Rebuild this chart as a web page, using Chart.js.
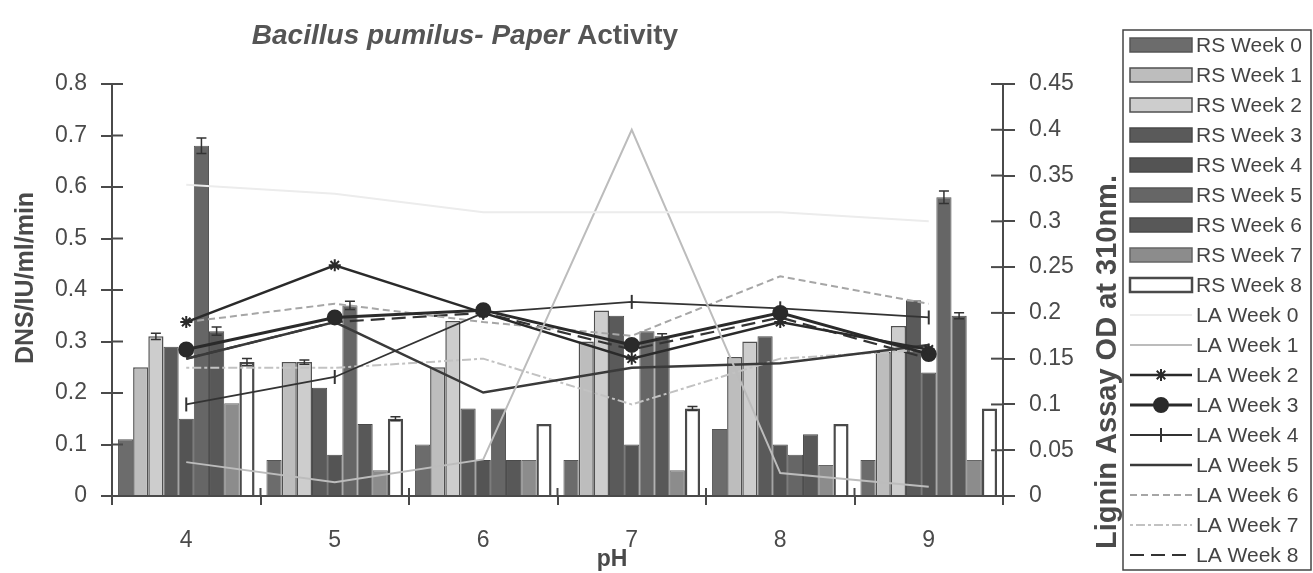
<!DOCTYPE html>
<html>
<head>
<meta charset="utf-8">
<script src="https://cdn.jsdelivr.net/npm/chart.js@4.4.1/dist/chart.umd.min.js"></script>
<style>
html,body{margin:0;padding:0;background:#fff;}
#wrap{width:1313px;height:573px;position:relative;}
</style>
</head>
<body>
<div id="wrap"><canvas id="c" width="1313" height="573"></canvas></div>
<script>
// ---- data ----
const categories = ['4', '5', '6', '7', '8', '9'];
const leftTicks = [0, 0.1, 0.2, 0.3, 0.4, 0.5, 0.6, 0.7, 0.8];
const rightTicks = [0, 0.05, 0.1, 0.15, 0.2, 0.25, 0.3, 0.35, 0.4, 0.45];
const leftTickLabels = ['0', '0.1', '0.2', '0.3', '0.4', '0.5', '0.6', '0.7', '0.8'];
const rightTickLabels = ['0', '0.05', '0.1', '0.15', '0.2', '0.25', '0.3', '0.35', '0.4', '0.45'];

const rsWeek0 = [0.11, 0.07, 0.10, 0.07, 0.13, 0.07];
const rsWeek1 = [0.25, 0.26, 0.25, 0.30, 0.27, 0.28];
const rsWeek2 = [0.31, 0.26, 0.34, 0.36, 0.30, 0.33];
const rsWeek3 = [0.29, 0.21, 0.17, 0.35, 0.31, 0.38];
const rsWeek4 = [0.15, 0.08, 0.07, 0.10, 0.10, 0.24];
const rsWeek5 = [0.68, 0.37, 0.17, 0.32, 0.08, 0.58];
const rsWeek6 = [0.32, 0.14, 0.07, 0.31, 0.12, 0.35];
const rsWeek7 = [0.18, 0.05, 0.07, 0.05, 0.06, 0.07];
const rsWeek8 = [0.26, 0.15, 0.14, 0.17, 0.14, 0.17];

const rsErr5 = [0.015, 0.008, 0.000, 0.000, 0.000, 0.012];
const rsErr6 = [0.008, 0.000, 0.000, 0.005, 0.000, 0.006];
const rsErr8 = [0.007, 0.004, 0.000, 0.004, 0.000, 0.000];
const rsErr2 = [0.006, 0.004, 0.000, 0.000, 0.000, 0.000];

const laWeek0 = [0.34, 0.33, 0.31, 0.31, 0.31, 0.30];
const laWeek1 = [0.037, 0.015, 0.04, 0.40, 0.025, 0.01];
const laWeek2 = [0.19, 0.252, 0.20, 0.15, 0.19, 0.16];
const laWeek3 = [0.16, 0.195, 0.203, 0.165, 0.20, 0.155];
const laWeek4 = [0.10, 0.13, 0.20, 0.212, 0.205, 0.195];
const laWeek5 = [0.15, 0.19, 0.113, 0.14, 0.145, 0.165];
const laWeek6 = [0.19, 0.21, 0.19, 0.175, 0.24, 0.21];
const laWeek7 = [0.14, 0.14, 0.15, 0.10, 0.15, 0.16];
const laWeek8 = [0.15, 0.19, 0.20, 0.16, 0.195, 0.15];

// ---- geometry ----
const PLOT_LEFT = 112, PLOT_RIGHT = 1003, PLOT_TOP = 84, PLOT_BOTTOM = 496;
const W = 1313, H = 573;
const FONT = '"Liberation Sans", Arial, sans-serif';
const INK = '#4a4a4a';

function bar(label, data, bg, border, bw, err) {
  return { type: 'bar', label, data, backgroundColor: bg, borderColor: border,
    borderWidth: bw, yAxisID: 'y', order: 2, errors: err || null,
    categoryPercentage: 0.92, barPercentage: 1.0, borderSkipped: 'bottom' };
}
function line(label, data, color, width, dash, ptStyle, ptRadius, ptRot) {
  return { type: 'line', label, data, borderColor: color, backgroundColor: color,
    borderWidth: width, borderDash: dash || [], yAxisID: 'y2', order: 1,
    pointStyle: ptStyle || 'circle', pointRadius: ptRadius || 0, pointRotation: ptRot || 0,
    pointBorderColor: color, pointBackgroundColor: color, pointBorderWidth: 2,
    tension: 0, fill: false };
}

const datasets = [
  bar('RS Week 0', rsWeek0, '#6c6c6c', '#555', 1),
  bar('RS Week 1', rsWeek1, '#bdbdbd', '#505050', 1.5),
  bar('RS Week 2', rsWeek2, '#cdcdcd', '#505050', 1.5, rsErr2),
  bar('RS Week 3', rsWeek3, '#5a5a5a', '#4a4a4a', 1),
  bar('RS Week 4', rsWeek4, '#545454', '#484848', 1),
  bar('RS Week 5', rsWeek5, '#666666', '#555', 1, rsErr5),
  bar('RS Week 6', rsWeek6, '#585858', '#4a4a4a', 1, rsErr6),
  bar('RS Week 7', rsWeek7, '#8c8c8c', '#666', 1),
  bar('RS Week 8', rsWeek8, '#ffffff', '#4a4a4a', 2.5, rsErr8),
  line('LA Week 0', laWeek0, '#ececec', 2),
  line('LA Week 1', laWeek1, '#bcbcbc', 2),
  line('LA Week 2', laWeek2, '#2a2a2a', 2.5, null, 'star', 6),
  line('LA Week 3', laWeek3, '#2a2a2a', 3, null, 'circle', 7),
  line('LA Week 4', laWeek4, '#333333', 1.8, null, 'line', 7, 90),
  line('LA Week 5', laWeek5, '#3a3a3a', 2.5),
  line('LA Week 6', laWeek6, '#a6a6a6', 2, [7, 4]),
  line('LA Week 7', laWeek7, '#c2c2c2', 2, [3, 3, 9, 3]),
  line('LA Week 8', laWeek8, '#333333', 2.2, [14, 7])
];

// ---- plugin: titles, inner ticks, error bars, legend ----
const decor = {
  id: 'decor',
  afterDatasetsDraw(chart) {
    const ctx = chart.ctx;
    const ys = chart.scales.y;
    ctx.save();
    ctx.strokeStyle = '#333';
    ctx.lineWidth = 1.5;
    chart.data.datasets.forEach((ds, di) => {
      if (!ds.errors) return;
      const meta = chart.getDatasetMeta(di);
      meta.data.forEach((el, i) => {
        const e = ds.errors[i];
        if (!e) return;
        const v = ds.data[i];
        const yt = ys.getPixelForValue(v + e);
        const yb = ys.getPixelForValue(v - e);
        ctx.beginPath();
        ctx.moveTo(el.x, yt); ctx.lineTo(el.x, yb);
        ctx.moveTo(el.x - 5, yt); ctx.lineTo(el.x + 5, yt);
        ctx.moveTo(el.x - 5, yb); ctx.lineTo(el.x + 5, yb);
        ctx.stroke();
      });
    });
    ctx.restore();
  },
  afterDraw(chart) {
    const ctx = chart.ctx;
    const ca = chart.chartArea;
    ctx.save();
    // inner tick halves
    ctx.strokeStyle = INK; ctx.lineWidth = 2;
    const ys = chart.scales.y, y2 = chart.scales.y2, xs = chart.scales.x;
    leftTicks.forEach(v => { const p = ys.getPixelForValue(v); ctx.beginPath(); ctx.moveTo(ca.left, p); ctx.lineTo(ca.left + 11, p); ctx.stroke(); });
    rightTicks.forEach(v => { const p = y2.getPixelForValue(v); ctx.beginPath(); ctx.moveTo(ca.right, p); ctx.lineTo(ca.right - 12, p); ctx.stroke(); });
    for (let i = 1; i < categories.length; i++) {
      const p = (xs.getPixelForValue(i - 1) + xs.getPixelForValue(i)) / 2;
      ctx.beginPath(); ctx.moveTo(p, ca.bottom); ctx.lineTo(p, ca.bottom - 8); ctx.stroke();
    }
    // title
    ctx.fillStyle = '#555';
    ctx.textBaseline = 'middle';
    ctx.textAlign = 'left';
    const t1 = 'Bacillus pumilus- Paper ', t2 = 'Activity';
    ctx.font = 'italic bold 28px ' + FONT;
    const w1 = ctx.measureText(t1).width;
    ctx.font = 'bold 28px ' + FONT;
    const w2 = ctx.measureText(t2).width;
    const tx = 465 - (w1 + w2) / 2;
    ctx.font = 'italic bold 28px ' + FONT;
    ctx.fillText(t1, tx, 36);
    ctx.font = 'bold 28px ' + FONT;
    ctx.fillText(t2, tx + w1, 36);
    // axis titles
    ctx.fillStyle = INK;
    ctx.font = 'bold 23px ' + FONT;
    ctx.textAlign = 'center';
    ctx.fillText('pH', 612, 560);
    ctx.save();
    ctx.font = 'bold 25px ' + FONT;
    ctx.translate(26, 278); ctx.rotate(-Math.PI / 2);
    ctx.fillText('DNS/IU/ml/min', 0, 0);
    ctx.restore();
    ctx.save();
    ctx.translate(1108, 362); ctx.rotate(-Math.PI / 2);
    ctx.font = 'bold 29px ' + FONT;
    ctx.fillText('Lignin Assay OD at 310nm.', 0, 0);
    ctx.restore();
    // legend
    const LX = 1123, LY = 30, LW = 188, LH = 540;
    ctx.strokeStyle = '#444'; ctx.lineWidth = 1.5;
    ctx.strokeRect(LX, LY, LW, LH);
    const rowH = 30, y0 = 45;
    ctx.font = '21px ' + FONT;
    ctx.textAlign = 'left';
    chart.data.datasets.forEach((ds, i) => {
      const cy = y0 + i * rowH;
      const sx = 1130, sw = 62;
      if (ds.type === 'bar') {
        ctx.fillStyle = ds.backgroundColor;
        ctx.fillRect(sx, cy - 7, sw, 14);
        ctx.strokeStyle = ds.borderColor; ctx.lineWidth = Math.max(1.5, ds.borderWidth);
        ctx.strokeRect(sx, cy - 7, sw, 14);
      } else {
        ctx.strokeStyle = ds.borderColor; ctx.lineWidth = ds.borderWidth;
        ctx.setLineDash(ds.borderDash);
        ctx.beginPath(); ctx.moveTo(sx, cy); ctx.lineTo(sx + sw, cy); ctx.stroke();
        ctx.setLineDash([]);
        if (ds.pointRadius > 0) {
          ctx.fillStyle = ds.borderColor; ctx.strokeStyle = ds.borderColor; ctx.lineWidth = 2;
          Chart.helpers.drawPoint(ctx, {
            pointStyle: ds.pointStyle, radius: ds.pointRadius, rotation: ds.pointRotation,
            borderWidth: 2
          }, sx + sw / 2, cy);
        }
      }
      ctx.fillStyle = '#444';
      ctx.fillText(ds.label, 1196, cy + 1);
    });
    ctx.restore();
  }
};

const tickFont = { family: FONT, size: 23 };
new Chart(document.getElementById('c'), {
  data: { labels: categories, datasets },
  plugins: [decor],
  options: {
    responsive: false,
    animation: false,
    devicePixelRatio: 1,
    layout: { padding: { top: PLOT_TOP, right: W - PLOT_RIGHT - 120, left: 0, bottom: 0 } },
    plugins: { legend: { display: false }, title: { display: false }, tooltip: { enabled: false } },
    scales: {
      x: {
        type: 'category', offset: true,
        grid: { offset: true, drawOnChartArea: false, drawTicks: true, tickLength: 9, color: INK, lineWidth: 2 },
        border: { display: true, color: INK, width: 2 },
        ticks: { font: tickFont, color: '#4a4a4a', padding: 22 },
        afterFit(s) { s.height = H - PLOT_BOTTOM; }
      },
      y: {
        position: 'left', min: 0, max: 0.8,
        afterBuildTicks(s) { s.ticks = leftTicks.map(v => ({ value: v })); },
        grid: { drawOnChartArea: false, tickLength: 11, color: INK, lineWidth: 2 },
        border: { display: true, color: INK, width: 2 },
        ticks: { font: tickFont, color: '#4a4a4a', padding: 14,
          callback: (v, i) => leftTickLabels[i] },
        afterFit(s) { s.width = PLOT_LEFT; }
      },
      y2: {
        position: 'right', min: 0, max: 0.45,
        afterBuildTicks(s) { s.ticks = rightTicks.map(v => ({ value: v })); },
        grid: { drawOnChartArea: false, tickLength: 12, color: INK, lineWidth: 2 },
        border: { display: true, color: INK, width: 2 },
        ticks: { font: tickFont, color: '#4a4a4a', padding: 14,
          callback: (v, i) => rightTickLabels[i] },
        afterFit(s) { s.width = 120; }
      }
    }
  }
});
</script>
</body>
</html>
